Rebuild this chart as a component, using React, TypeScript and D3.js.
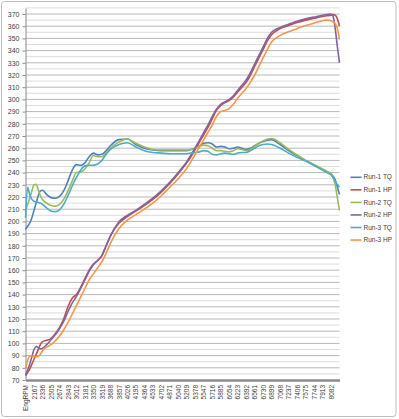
import { useEffect, useRef } from "react";
import * as d3 from "d3";

// engine speed grid (rpm) shared by every run
const rpm = [
  1998, 2040, 2082, 2125, 2167, 2210, 2252, 2294, 2336, 2420, 2505, 2590, 2674, 2758, 2843, 2928, 3012, 3096,
  3181, 3265, 3350, 3435, 3519, 3604, 3688, 3857, 4026, 4195, 4364, 4533, 4702, 4871, 5040, 5209, 5293, 5378,
  5462, 5547, 5631, 5716, 5800, 5885, 5970, 6054, 6138, 6223, 6308, 6392, 6477, 6561, 6646, 6730, 6815, 6899,
  7068, 7237, 7406, 7575, 7744, 7913, 7998, 8082, 8124, 8166, 8209, 8251,
];

const run1TQ = [
  193.5, 196, 198.5, 203, 209, 215, 221, 225, 225.5, 222, 219.5, 219, 220.5, 225, 233, 242, 246.5, 246,
  248, 253, 256, 254.5, 255, 258, 262, 267, 267.5, 263, 260, 258.5, 258, 258, 258, 258, 259, 260,
  262, 264, 264.5, 263.5, 261, 261.5, 261, 259.5, 260, 261, 260, 259, 260, 262, 264, 265.5, 266.5, 267,
  263, 258, 254, 250, 246, 242.5, 241, 239, 237, 234, 228, 222,
];
const run1HP = [
  73.5, 76, 79, 83, 87, 91, 95, 99, 101.5, 102.5, 104, 108, 113, 120, 130, 137, 140, 146,
  153, 160, 165, 168, 172, 180, 188, 198.5, 204, 208.5, 213, 218, 224, 231, 239, 248, 253, 259,
  265, 271, 277, 284, 291, 295, 297.5, 299, 302, 306, 310, 314, 320, 327, 334, 341, 348, 353,
  358, 360.5, 363, 365, 366.5, 368, 368.5, 369, 369.5, 369, 366, 360,
];
const run2TQ = [
  208, 214, 219, 225, 230, 230.5, 226, 221, 218, 215, 213, 212.5, 214, 218, 225, 233, 240, 240.5,
  243, 248, 254, 253, 253, 256, 260, 265, 267.5, 264, 261, 259, 258.5, 258.5, 258.5, 258.5, 259, 260,
  261.5, 262.5, 262, 260, 258, 258, 257.5, 257, 258, 259.5, 259, 258, 259, 261.5, 264, 266, 267.5, 268,
  264.5, 259, 254.5, 250, 246.5, 243, 241, 239, 236, 230, 219, 209,
];
const run2HP = [
  74, 78, 83, 89, 95, 97.5, 96.5, 95.5, 96, 99, 103, 107, 112, 118, 126, 133, 138.5, 145,
  152, 159, 164.5, 168, 172, 180, 188, 199.5, 205, 209, 214, 219, 225, 232, 240, 249, 254.5, 260.5,
  266.5, 273, 279, 286, 292, 296, 298, 300, 303, 307.5, 311.5, 316, 322, 329, 336, 343, 350, 355,
  359, 361.5, 364, 366, 367.5, 369, 369.5, 370, 368, 358, 343, 330,
];
const run3TQ = [
  203, 228, 222, 218, 216.5, 216, 215.5, 215, 214, 211, 208.5, 208, 209.5, 214, 221, 229, 236, 242,
  245.5, 246, 246, 247, 250, 255, 259, 263, 264.5, 261, 258, 256.5, 256, 255.5, 255.5, 255.5, 256, 256.5,
  257, 258, 257.5, 255, 254.5, 255.5, 256, 255.5, 255, 256, 256.5, 256.5, 258, 260, 262, 263, 263.5, 263,
  260, 256, 252.5, 249.5, 246, 242, 240, 238, 236, 233, 230, 228,
];
const run3HP = [
  79.5, 86, 89.5, 89.5, 89, 89, 89.5, 91, 94, 97, 99, 102, 106, 111, 117, 124, 131, 138,
  145, 152, 157, 162, 167, 174, 182, 194, 201, 205.5, 210, 215, 221, 228, 235, 243.5, 249, 255,
  261, 267, 273, 279, 286, 290, 291, 292.5, 296, 301, 305, 309, 314, 320, 327, 334, 341, 347,
  352.5, 355.5, 358, 360.5, 362.5, 364.5, 365, 364.5, 363.5, 362, 358, 349,
];

const seriesNames = ["Run-1 TQ", "Run-1 HP", "Run-2 TQ", "Run-2 HP", "Run-3 TQ", "Run-3 HP"];
const seriesValues = [run1TQ, run1HP, run2TQ, run2HP, run3TQ, run3HP];
const colors = ["#4F81BD", "#C0504D", "#9BBB59", "#8064A2", "#4BACC6", "#F79646"];

const xLabels = [
  "EngRPM", "2167", "2336", "2505", "2674", "2843", "3012", "3181", "3350", "3519", "3688", "3857", "4026",
  "4195", "4364", "4533", "4702", "4871", "5040", "5209", "5378", "5547", "5716", "5885", "6054", "6223",
  "6392", "6561", "6730", "6899", "7068", "7237", "7406", "7575", "7744", "7913", "8082",
];
const yTicks = d3.range(70, 371, 10);

const App = () => {
  const ref = useRef<SVGSVGElement | null>(null);

  useEffect(() => {
    if (!ref.current) return;
    const svg = d3.select(ref.current);
    svg.selectAll("*").remove();

    const width = 399;
    const height = 419;
    const plot = { left: 25.5, right: 339.5, top: 7.9, bottom: 380 };
    const font = "'Liberation Sans', Arial, sans-serif";

    svg.attr("width", width).attr("height", height);

    // chart area frame
    svg.append("rect")
      .attr("x", 1.5).attr("y", 1.5)
      .attr("width", 394.5).attr("height", 415)
      .attr("rx", 3)
      .attr("fill", "#fff")
      .attr("stroke", "#bdbdbd");

    const x = d3.scaleLinear().domain([1998, 8251]).range([plot.left, plot.right]);
    const y = d3.scaleLinear().domain([70, 375]).range([plot.bottom, plot.top]);

    // gridlines every 5, darker on the labelled 10s
    const grid = svg.append("g");
    d3.range(75, 376, 5).forEach((v) => {
      grid.append("line")
        .attr("x1", plot.left).attr("x2", plot.right)
        .attr("y1", y(v)).attr("y2", y(v))
        .attr("stroke", v % 10 === 0 ? "#b8b8b8" : "#dcdcdc")
        .attr("stroke-width", 1);
    });

    // y axis
    const yAxis = svg.append("g")
      .attr("transform", `translate(${plot.left},0)`)
      .call(d3.axisLeft(y).tickValues(yTicks).tickSize(3).tickPadding(3).tickSizeOuter(0));
    yAxis.select(".domain").attr("stroke", "#8a8a8a");
    yAxis.selectAll("line").attr("stroke", "#8a8a8a");
    yAxis.selectAll("text")
      .attr("font-family", font).attr("font-size", 7).attr("fill", "#404040");

    // x axis (category labels)
    const xAxis = svg.append("g")
      .attr("transform", `translate(0,${plot.bottom})`)
      .call(
        d3.axisBottom(x)
          .tickValues(xLabels.map((_, i) => 1998 + 169 * i))
          .tickFormat((_, i) => xLabels[i])
          .tickSize(0)
          .tickSizeOuter(0)
      );
    xAxis.select(".domain").attr("stroke", "#8c8c8c").attr("stroke-width", 2.5);
    xAxis.selectAll("text")
      .attr("font-family", font).attr("font-size", 6.5).attr("fill", "#404040")
      .attr("transform", "rotate(-90)")
      .attr("x", -5).attr("y", 0).attr("dy", "0.33em")
      .style("text-anchor", "end");

    // lines
    const line = d3.line<number>()
      .x((_, i) => x(rpm[i]))
      .y((d) => y(d))
      .curve(d3.curveMonotoneX);

    seriesValues.forEach((vals, k) => {
      svg.append("path")
        .datum(vals)
        .attr("d", line)
        .attr("fill", "none")
        .attr("stroke", colors[k])
        .attr("stroke-width", 1.6)
        .attr("stroke-linejoin", "round");
    });

    // legend
    const legend = svg.append("g").attr("transform", "translate(350.5,177.3)");
    seriesNames.forEach((name, k) => {
      const g = legend.append("g").attr("transform", `translate(0,${k * 12.55})`);
      g.append("line")
        .attr("x1", 0).attr("x2", 11)
        .attr("stroke", colors[k]).attr("stroke-width", 1.6);
      g.append("text")
        .attr("x", 13).attr("dy", "0.33em")
        .attr("font-family", font).attr("font-size", 6.5).attr("fill", "#404040")
        .text(name);
    });
  }, []);

  return (
    <svg ref={ref} style={{ position: "absolute", left: 0, top: 0, background: "#fff" }}></svg>
  );
};

export default App;
